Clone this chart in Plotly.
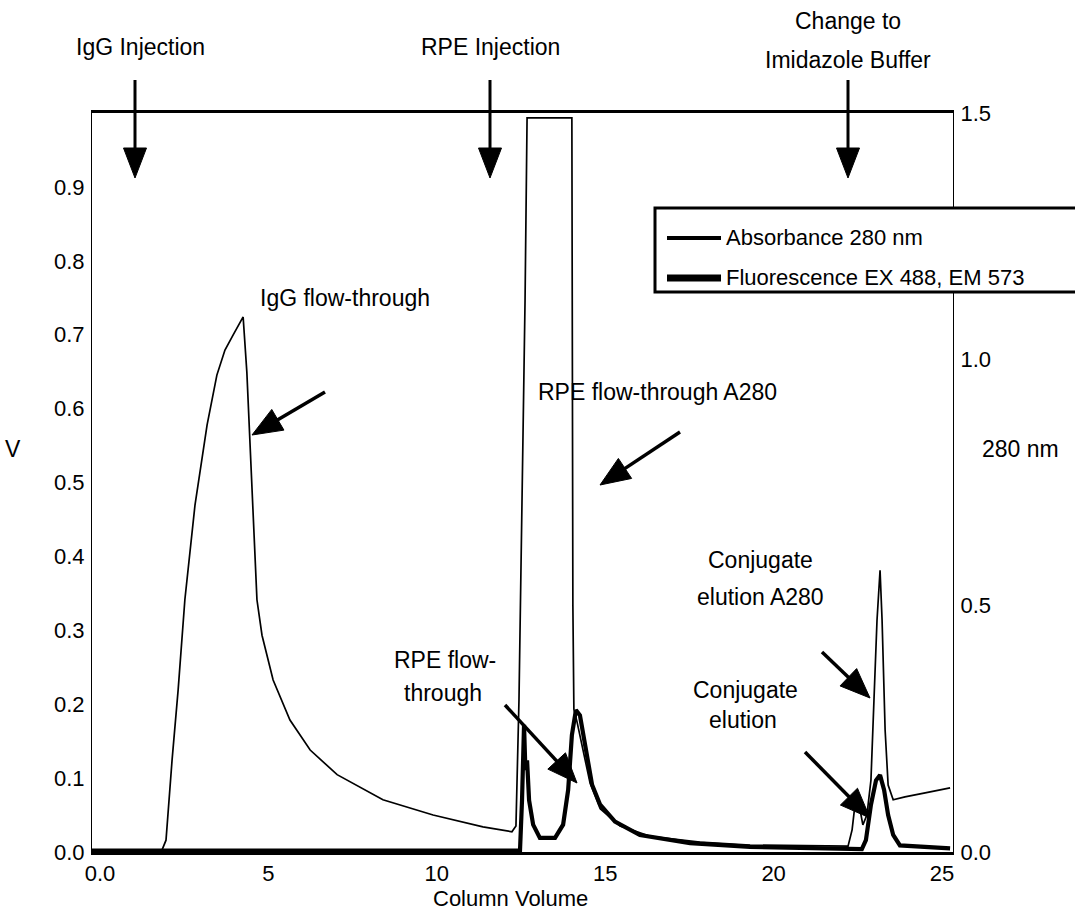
import plotly.graph_objects as go
import math

# ---------------- data ----------------
cv_a280 = [-0.24, 1.84, 1.96, 2.14, 2.32, 2.52, 2.82, 3.18, 3.47, 3.71, 3.95, 4.25,
           4.36, 4.45, 4.54, 4.66, 4.81, 5.14, 5.64, 6.24, 7.04, 8.40, 9.89, 11.37,
           12.23, 12.35, 12.44, 12.53, 12.62, 12.68, 14.01, 14.04, 14.07, 14.16, 14.31,
           14.55, 14.85, 15.44, 16.33, 17.81, 19.30, 22.21, 22.33, 22.45, 22.54, 22.65,
           22.77, 22.89, 22.98, 23.07, 23.16, 23.22, 23.31, 23.40, 23.55, 23.90, 24.50, 25.24]
a280 = [0.004, 0.004, 0.024, 0.187, 0.329, 0.512, 0.704, 0.867, 0.968, 1.019, 1.049, 1.086,
        0.974, 0.844, 0.684, 0.512, 0.440, 0.349, 0.268, 0.207, 0.157, 0.106, 0.075, 0.051,
        0.041, 0.053, 0.309, 0.714, 1.12, 1.49, 1.49, 0.500, 0.290, 0.265, 0.215,
        0.140, 0.088, 0.053, 0.032, 0.020, 0.014, 0.012, 0.045, 0.116, 0.095, 0.055,
        0.075, 0.146, 0.309, 0.471, 0.572, 0.471, 0.248, 0.136, 0.106, 0.112, 0.120, 0.130]

cv_fl = [-0.24, 12.47, 12.53, 12.59, 12.63, 12.68, 12.74, 12.86, 13.06, 13.51, 13.75,
         13.90, 14.01, 14.13, 14.25, 14.40, 14.61, 14.85, 15.29, 16.03, 17.52, 19.30,
         22.62, 22.74, 22.89, 23.04, 23.16, 23.28, 23.40, 23.55, 23.75, 25.24]
fluor = [0.002, 0.002, 0.070, 0.172, 0.111, 0.124, 0.070, 0.037, 0.019, 0.019, 0.037,
         0.084, 0.158, 0.192, 0.185, 0.145, 0.091, 0.064, 0.041, 0.023, 0.012, 0.007,
         0.004, 0.016, 0.064, 0.097, 0.104, 0.084, 0.050, 0.023, 0.009, 0.005]

x_ticks = [0, 5, 10, 15, 20, 25]
x_ticktext = ["0.0", "5", "10", "15", "20", "25"]
v_ticks = [0.0, 0.1, 0.2, 0.3, 0.4, 0.5, 0.6, 0.7, 0.8, 0.9]
v_ticktext = ["0.0", "0.1", "0.2", "0.3", "0.4", "0.5", "0.6", "0.7", "0.8", "0.9"]
nm_ticks = [0.0, 0.5, 1.0, 1.5]
nm_ticktext = ["0.0", "0.5", "1.0", "1.5"]

# ---------------- layout geometry ----------------
FW, FH = 1075, 913
L, R, T, B = 92, 953, 113, 852
PW, PH = R - L, B - T
FONT = "Liberation Sans, Arial, Helvetica, sans-serif"
TS = 23   # annotation text size
KS = 22   # tick label size


def pp(px, py):
    return (px - L) / PW, (B - py) / PH


fig = go.Figure()
fig.add_trace(go.Scatter(x=cv_a280, y=a280, mode="lines", name="Absorbance 280 nm",
                         yaxis="y2", line=dict(color="black", width=1.7),
                         showlegend=False))
fig.add_trace(go.Scatter(x=cv_fl, y=fluor, mode="lines", name="Fluorescence EX 488, EM 573",
                         line=dict(color="black", width=4.2), showlegend=False))

shapes = []
annotations = []


def arrow(tail, tip, hl=28, hw=22, sw=3.5):
    tx, ty = tail
    hx, hy = tip
    d = math.hypot(hx - tx, hy - ty)
    ux, uy = (hx - tx) / d, (hy - ty) / d
    bx, by = hx - ux * hl, hy - uy * hl
    nx, ny = -uy, ux
    p1 = pp(bx + nx * hw / 2, by + ny * hw / 2)
    p2 = pp(bx - nx * hw / 2, by - ny * hw / 2)
    p0 = pp(hx, hy)
    s0 = pp(tx, ty)
    s1 = pp(bx + ux * 4, by + uy * 4)
    shapes.append(dict(type="line", xref="paper", yref="paper", x0=s0[0], y0=s0[1],
                       x1=s1[0], y1=s1[1], line=dict(color="black", width=sw)))
    shapes.append(dict(type="path", xref="paper", yref="paper",
                       path=f"M {p0[0]},{p0[1]} L {p1[0]},{p1[1]} L {p2[0]},{p2[1]} Z",
                       fillcolor="black", line=dict(color="black", width=1)))


def text(s, px, py, size=TS, xanchor="center"):
    x, y = pp(px, py)
    annotations.append(dict(text=s, x=x, y=y, xref="paper", yref="paper", showarrow=False,
                            xanchor=xanchor, yanchor="middle",
                            font=dict(family=FONT, size=size, color="black")))


# injection arrows
arrow((135, 80), (135, 178), hl=30, hw=23, sw=3)
arrow((490, 80), (490, 178), hl=30, hw=23, sw=3)
arrow((848, 80), (848, 178), hl=30, hw=23, sw=3)
# peak arrows
arrow((325, 392), (252, 435), hl=30, hw=24, sw=3.5)
arrow((680, 432), (600, 485), hl=30, hw=24, sw=3.5)
arrow((505, 705), (577, 783), hl=30, hw=24, sw=3.5)
arrow((822, 652), (870, 698), hl=30, hw=24, sw=3.5)
arrow((805, 752), (870, 818), hl=30, hw=24, sw=3.5)

text("IgG Injection", 140, 47)
text("RPE Injection", 490, 47)
text("Change to", 848, 21)
text("Imidazole Buffer", 848, 60)
text("IgG flow-through", 345, 298)
text("RPE flow-through A280", 657, 392)
text("RPE flow-", 445, 660)
text("through", 443, 693)
text("Conjugate", 760, 560)
text("elution A280", 760, 597)
text("Conjugate", 745, 690)
text("elution", 743, 720)
text("280 nm", 1020, 449)
text("V", 13, 449)
text("Column Volume", 510, 898, size=22)

# legend box (drawn)
lb0 = pp(655, 208)
lb1 = pp(1085, 292)
shapes.append(dict(type="rect", xref="paper", yref="paper", x0=lb0[0], y0=lb1[1],
                   x1=lb1[0], y1=lb0[1], fillcolor="white",
                   line=dict(color="black", width=3), layer="above"))
for (yy, w, name) in [(238, 4, "Absorbance 280 nm"), (278, 7, "Fluorescence EX 488, EM 573")]:
    a = pp(667, yy)
    b = pp(721, yy)
    shapes.append(dict(type="line", xref="paper", yref="paper", x0=a[0], y0=a[1],
                       x1=b[0], y1=b[1], line=dict(color="black", width=w), layer="above"))
    text(name, 724, yy - 1, size=22, xanchor="left")

fig.update_layout(
    width=FW, height=FH, autosize=False,
    margin=dict(l=L, r=FW - R, t=T, b=FH - B, pad=0),
    paper_bgcolor="white", plot_bgcolor="white",
    font=dict(family=FONT, size=KS, color="black"),
    showlegend=False,
    xaxis=dict(range=[-0.2375, 25.326], tickvals=x_ticks, ticktext=x_ticktext,
               showgrid=False, zeroline=False, showline=True, linecolor="black",
               linewidth=3, mirror=True, ticks="", tickfont=dict(size=KS),
               ticklabelstandoff=0),
    yaxis=dict(range=[0, 1.0], tickvals=v_ticks, ticktext=v_ticktext,
               showgrid=False, zeroline=False, showline=True, linecolor="black",
               linewidth=1.2, ticks="", tickfont=dict(size=KS), ticklabelstandoff=2),
    yaxis2=dict(range=[0, 1.5], tickvals=nm_ticks, ticktext=nm_ticktext, overlaying="y",
                side="right", showgrid=False, zeroline=False, showline=True,
                linecolor="black", linewidth=1.2, ticks="", tickfont=dict(size=KS),
                ticklabelstandoff=2),
    shapes=shapes,
    annotations=annotations,
)

fig.write_html("out.html")
